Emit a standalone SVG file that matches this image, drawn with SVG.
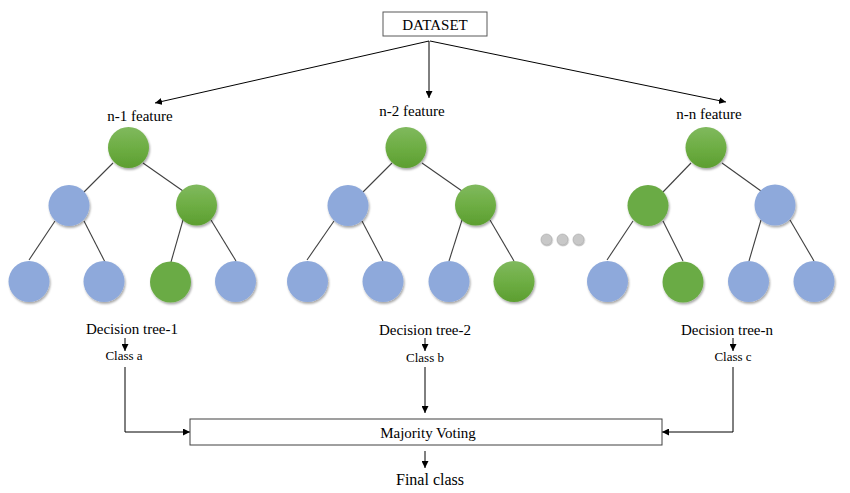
<svg xmlns="http://www.w3.org/2000/svg" width="850" height="493" viewBox="0 0 850 493">
<defs>
<linearGradient id="gg" x1="0" y1="0" x2="0" y2="1">
<stop offset="0" stop-color="#80B95E"/>
<stop offset="0.5" stop-color="#6EAE44"/>
<stop offset="1" stop-color="#5C9E30"/>
</linearGradient>
<filter id="sh" x="-30%" y="-30%" width="160%" height="160%">
<feDropShadow dx="1" dy="1.8" stdDeviation="1.2" flood-color="#000" flood-opacity="0.35"/>
</filter>
<filter id="sh2" x="-40%" y="-40%" width="180%" height="180%">
<feDropShadow dx="0.5" dy="1" stdDeviation="0.6" flood-color="#000" flood-opacity="0.3"/>
</filter>
<marker id="ah" viewBox="0 0 10 10" refX="10" refY="5" markerWidth="7" markerHeight="7" markerUnits="userSpaceOnUse" orient="auto">
<path d="M0,0 L10,5 L0,10 z" fill="#000"/>
</marker>
</defs>
<style>
.t{font-family:"Liberation Serif","Times New Roman",serif;fill:#000;text-anchor:middle}
.f15{font-size:15px}
.f13{font-size:13px}
.f16{font-size:16px}
.con{stroke:#000;stroke-width:1;fill:none}
.edge{stroke:#404040;stroke-width:1.1}
.b{fill:#8EA9DB;filter:url(#sh)}
.g{fill:url(#gg);filter:url(#sh)}
.gf{fill:#6AAB45;filter:url(#sh)}
.dot{fill:#C8C8C8;stroke:#A8A8A8;stroke-width:0.6;filter:url(#sh2)}
</style>
<rect width="850" height="493" fill="#fff"/>

<g id="connectors">
<line class="con" x1="429" y1="41" x2="155" y2="103" marker-end="url(#ah)"/>
<line class="con" x1="429" y1="41" x2="429" y2="98" marker-end="url(#ah)"/>
<line class="con" x1="430" y1="41" x2="726" y2="102" marker-end="url(#ah)"/>
<line class="con" x1="125" y1="338" x2="125" y2="351" marker-end="url(#ah)"/>
<line class="con" x1="425" y1="338" x2="425" y2="351" marker-end="url(#ah)"/>
<line class="con" x1="733" y1="338" x2="733" y2="351" marker-end="url(#ah)"/>
<polyline class="con" points="125,367 125,432 190,432" marker-end="url(#ah)"/>
<line class="con" x1="425" y1="367" x2="425" y2="413" marker-end="url(#ah)"/>
<polyline class="con" points="733,367 733,432 662,432" marker-end="url(#ah)"/>
<line class="con" x1="425" y1="451" x2="425" y2="468" marker-end="url(#ah)"/>
</g>

<g id="tree-edges">
<line class="edge" x1="113" y1="163" x2="84" y2="192"/>
<line class="edge" x1="143" y1="163" x2="183" y2="191"/>
<line class="edge" x1="55" y1="221" x2="29" y2="260"/>
<line class="edge" x1="84" y1="221" x2="105" y2="262"/>
<line class="edge" x1="183" y1="220" x2="171" y2="262"/>
<line class="edge" x1="211" y1="220" x2="236" y2="261"/>

<line class="edge" x1="392" y1="163" x2="363" y2="192"/>
<line class="edge" x1="422" y1="163" x2="462" y2="191"/>
<line class="edge" x1="334" y1="221" x2="307" y2="260"/>
<line class="edge" x1="362" y1="221" x2="383" y2="261"/>
<line class="edge" x1="462" y1="220" x2="449" y2="261"/>
<line class="edge" x1="490" y1="220" x2="514" y2="261"/>

<line class="edge" x1="691" y1="163" x2="663" y2="192"/>
<line class="edge" x1="722" y1="163" x2="761" y2="191"/>
<line class="edge" x1="633" y1="221" x2="607" y2="260"/>
<line class="edge" x1="663" y1="221" x2="683" y2="261"/>
<line class="edge" x1="761" y1="220" x2="749" y2="261"/>
<line class="edge" x1="790" y1="220" x2="814" y2="261"/>
</g>

<g id="dataset">
<rect x="383" y="12" width="104" height="24" fill="#fff" stroke="#595959" stroke-width="1"/>
<text class="t f15" x="435" y="30">DATASET</text>
</g>

<g id="tree-1">
<text class="t f15" x="140" y="121">n-1 feature</text>
<circle class="g" cx="128.5" cy="147.5" r="20.5"/>
<circle class="b" cx="69" cy="205.5" r="20.5"/>
<circle class="g" cx="196.5" cy="205" r="20.5"/>
<circle class="b" cx="29" cy="281.5" r="20.5"/>
<circle class="b" cx="104" cy="281.5" r="20.5"/>
<circle class="gf" cx="170.5" cy="282" r="20.5"/>
<circle class="b" cx="235.5" cy="281.5" r="20.5"/>
</g>

<g id="tree-2">
<text class="t f15" x="412" y="116">n-2 feature</text>
<circle class="g" cx="406" cy="147.5" r="20.5"/>
<circle class="b" cx="348" cy="205.5" r="20.5"/>
<circle class="g" cx="475.5" cy="205" r="20.5"/>
<circle class="b" cx="307.5" cy="281.5" r="20.5"/>
<circle class="b" cx="383" cy="281.5" r="20.5"/>
<circle class="b" cx="449" cy="281.5" r="20.5"/>
<circle class="g" cx="514" cy="281.5" r="20.5"/>
</g>

<g id="ellipsis">
<circle class="dot" cx="546.5" cy="239.5" r="5.5"/>
<circle class="dot" cx="562.5" cy="239.5" r="5.5"/>
<circle class="dot" cx="578.5" cy="239.5" r="5.5"/>
</g>

<g id="tree-n">
<text class="t f15" x="709" y="119">n-n feature</text>
<circle class="g" cx="706" cy="147.5" r="20.5"/>
<circle class="gf" cx="648" cy="205.5" r="20.5"/>
<circle class="b" cx="775" cy="205" r="20.5"/>
<circle class="b" cx="607.5" cy="281.5" r="20.5"/>
<circle class="gf" cx="683" cy="282" r="20.5"/>
<circle class="b" cx="748.5" cy="281.5" r="20.5"/>
<circle class="b" cx="814" cy="281.5" r="20.5"/>
</g>

<g id="labels">
<text class="t f15" x="132" y="334">Decision tree-1</text>
<text class="t f15" x="425" y="335">Decision tree-2</text>
<text class="t f15" x="727" y="335">Decision tree-n</text>
<text class="t f13" x="124" y="360">Class a</text>
<text class="t f13" x="425" y="362">Class b</text>
<text class="t f13" x="733" y="361">Class c</text>
</g>

<g id="majority-voting">
<rect x="190" y="419" width="472" height="26" fill="#fff" stroke="#404040" stroke-width="1"/>
<text class="t f15" x="428" y="438">Majority Voting</text>
</g>

<g id="final-class">
<text class="t f16" x="430" y="485">Final class</text>
</g>
</svg>
